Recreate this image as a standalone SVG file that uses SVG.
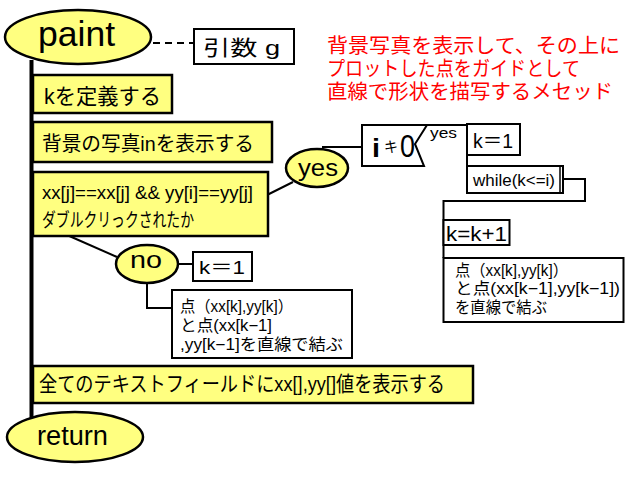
<svg xmlns="http://www.w3.org/2000/svg" width="640" height="480" viewBox="0 0 640 480">
<style>
.y{fill:#ffff80;stroke:#000;stroke-width:2.5}
.w{fill:#fff;stroke:#000;stroke-width:2}
.c{fill:none;stroke:#000;stroke-width:2}
text{font-family:"Liberation Sans","Noto Sans CJK JP",sans-serif;fill:#000}
.r{fill:#ff0000;font-size:20px}
</style>
<rect width="640" height="480" fill="#fff"/>
<g id="connectors">
<line x1="31.5" y1="60" x2="31.5" y2="420" stroke="#000" stroke-width="4"/>
<line x1="153" y1="43" x2="194" y2="43" class="c" stroke-dasharray="7,5"/>
<line x1="267" y1="195" x2="293" y2="182" class="c"/>
<line x1="322" y1="147" x2="362" y2="147" class="c"/>
<line x1="67" y1="235" x2="117" y2="257" class="c"/>
<line x1="178" y1="264" x2="193" y2="264" class="c"/>
<polyline points="147,283 147,308 172,308" class="c"/>
<line x1="427" y1="125" x2="467" y2="125" class="c"/>
<line x1="467" y1="155" x2="467" y2="166" class="c"/>
<polyline points="563,179 585,179 585,201 443.5,201 443.5,258" class="c"/>
</g>
<g id="paint">
<ellipse cx="78" cy="37" rx="73" ry="27" class="y" stroke-width="3"/>
<text x="38" y="46" font-size="35" textLength="77" lengthAdjust="spacingAndGlyphs">paint</text>
</g>
<g id="arg">
<rect x="194" y="29" width="100" height="35" class="w"/>
<text x="203" y="55" font-size="21" textLength="77" lengthAdjust="spacingAndGlyphs">引数 g</text>
</g>
<g id="title">
<text class="r" x="327" y="53" textLength="293" lengthAdjust="spacingAndGlyphs">背景写真を表示して、その上に</text>
<text class="r" x="327" y="76" textLength="253" lengthAdjust="spacingAndGlyphs">プロットした点をガイドとして</text>
<text class="r" x="327" y="99" textLength="286" lengthAdjust="spacingAndGlyphs">直線で形状を描写するメセッド</text>
</g>
<g id="defk">
<rect x="33" y="75" width="139" height="38" class="y"/>
<text x="44" y="104" font-size="22" textLength="117" lengthAdjust="spacingAndGlyphs">kを定義する</text>
</g>
<g id="bg">
<rect x="33" y="122" width="239" height="40" class="y"/>
<text x="42" y="151" font-size="20" textLength="212" lengthAdjust="spacingAndGlyphs">背景の写真inを表示する</text>
</g>
<g id="cond">
<rect x="33" y="172" width="235" height="64" class="y"/>
<text x="42" y="199" font-size="19" textLength="211" lengthAdjust="spacingAndGlyphs">xx[j]==xx[j] &amp;&amp; yy[i]==yy[j]</text>
<text x="42" y="227" font-size="19" textLength="152" lengthAdjust="spacingAndGlyphs">ダブルクリっクされたか</text>
</g>
<g id="yes">
<ellipse cx="317" cy="168" rx="31" ry="19" class="y" stroke-width="2"/>
<text x="298" y="176" font-size="23" textLength="40" lengthAdjust="spacingAndGlyphs">yes</text>
</g>
<g id="no">
<ellipse cx="147" cy="264" rx="31" ry="19" class="y" stroke-width="2"/>
<text x="130" y="268" font-size="23" textLength="32" lengthAdjust="spacingAndGlyphs">no</text>
</g>
<g id="k1a">
<rect x="193" y="252" width="59" height="29" class="w"/>
<text x="199" y="274" font-size="19" textLength="46" lengthAdjust="spacingAndGlyphs">k＝1</text>
</g>
<g id="linea">
<rect x="172" y="290" width="180" height="68" class="w"/>
<text x="180" y="312" font-size="16" textLength="113" lengthAdjust="spacingAndGlyphs">点（xx[k],yy[k]）</text>
<text x="180" y="331" font-size="16" textLength="92" lengthAdjust="spacingAndGlyphs">と点(xx[k−1]</text>
<text x="180" y="350" font-size="16" textLength="163" lengthAdjust="spacingAndGlyphs">,yy[k−1]を直線で結ぶ</text>
</g>
<g id="cond2">
<polygon points="362,125 427,125 415,144 424,166 362,166" class="w"/>
<text x="372" y="157" font-size="26" font-weight="bold" textLength="8" lengthAdjust="spacingAndGlyphs">i</text>
<text x="384" y="152" font-size="15" textLength="14" lengthAdjust="spacingAndGlyphs">キ</text>
<text x="400" y="157" font-size="32" textLength="15" lengthAdjust="spacingAndGlyphs">0</text>
<text x="430" y="138" font-size="14" textLength="27" lengthAdjust="spacingAndGlyphs">yes</text>
</g>
<g id="k1b">
<rect x="467" y="124" width="53" height="31" class="w"/>
<text x="473" y="148" font-size="20" textLength="40" lengthAdjust="spacingAndGlyphs">k＝1</text>
</g>
<g id="while">
<rect x="467" y="166" width="96" height="27" class="w"/>
<line x1="560" y1="166" x2="560" y2="193" stroke="#000" stroke-width="1.5"/>
<text x="473" y="186" font-size="17" textLength="82" lengthAdjust="spacingAndGlyphs">while(k&lt;=i)</text>
</g>
<g id="inc">
<rect x="443.5" y="220" width="66" height="25" class="w"/>
<text x="446" y="241" font-size="20" textLength="61" lengthAdjust="spacingAndGlyphs">k=k+1</text>
</g>
<g id="lineb">
<rect x="443.5" y="258" width="180" height="64" class="w"/>
<text x="455" y="276" font-size="16" textLength="113" lengthAdjust="spacingAndGlyphs">点（xx[k],yy[k]）</text>
<text x="455" y="294" font-size="16" textLength="165" lengthAdjust="spacingAndGlyphs">と点(xx[k−1],yy[k−1])</text>
<text x="455" y="313" font-size="16" textLength="92" lengthAdjust="spacingAndGlyphs">を直線で結ぶ</text>
</g>
<g id="show">
<rect x="33" y="366" width="440" height="37" class="y"/>
<text x="39" y="391" font-size="21" textLength="406" lengthAdjust="spacingAndGlyphs">全てのテキストフィールドにxx[],yy[]値を表示する</text>
</g>
<g id="return">
<ellipse cx="75" cy="437" rx="68" ry="25" class="y"/>
<text x="37" y="445" font-size="27" textLength="71" lengthAdjust="spacingAndGlyphs">return</text>
</g>
</svg>
